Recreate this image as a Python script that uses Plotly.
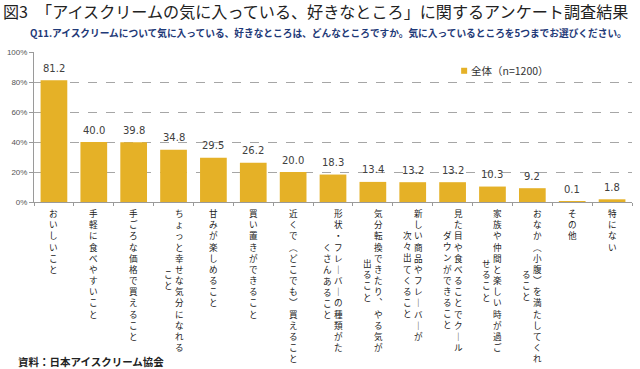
import plotly.graph_objects as go

# ---- data ----
title_text = "図3　「アイスクリームの気に入っている、好きなところ」に関するアンケート調査結果"
subtitle_text = "Q11.アイスクリームについて気に入っている、好きなところは、どんなところですか。気に入っているところを5つまでお選びください。"
source_text = "資料：日本アイスクリーム協会"
series_name = "全体（n=1200）"

label_lines = [
    ["おいしいこと"],
    ["手軽に食べやすいこと"],
    ["手ごろな価格で買えること"],
    ["ちょっと幸せな気分になれる", "こと"],
    ["甘みが楽しめること"],
    ["買い置きができること"],
    ["近くで(どこでも)買えること"],
    ["形状・フレーバーの種類がた", "くさんあること"],
    ["気分転換できたり、やる気が", "出ること"],
    ["新しい商品やフレーバーが", "次々出てくること"],
    ["見た目や食べることでクール", "ダウンができること"],
    ["家族や仲間と楽しい時が過ご", "せること"],
    ["おなか(小腹)を満たしてくれ", "ること"],
    ["その他"],
    ["特にない"],
]
categories = ["".join(l) for l in label_lines]
values = [81.2, 40.0, 39.8, 34.8, 29.5, 26.2, 20.0, 18.3, 13.4, 13.2, 13.2, 10.3, 9.2, 0.1, 1.8]
y_ticks = [0, 20, 40, 60, 80, 100]
y_tick_text = [f"{t}%" for t in y_ticks]

# ---- style / geometry ----
W, H = 640, 369
L_M, R_M, T_M, B_M = 33.5, 8, 52.3, 167.3
PW, PH = W - L_M - R_M, H - T_M - B_M
BAR = "#E5B127"
CJK = "Noto Sans CJK JP"
vertical_map = {"ー": "｜", "、": "︑", "(": "︵", ")": "︶", "（": "︵", "）": "︶"}
LBL_SIZE = 8.6
step = LBL_SIZE * 1.3  # plotly line spacing
col_gap = 11


def px_x(x):
    return (x - L_M) / PW


def px_y(y):
    return (H - B_M - y) / PH


fig = go.Figure()
fig.add_trace(go.Bar(
    x=categories, y=values, marker=dict(color=BAR, line=dict(width=0)),
    showlegend=False, hoverinfo="x+y",
))

annotations = []
# value labels
for i, v in enumerate(values):
    annotations.append(dict(
        x=i, y=v, xref="x", yref="y", text=f"{v:.1f}", showarrow=False,
        yshift=12, yanchor="middle", xanchor="center",
        font=dict(family="DejaVu Sans", size=10, color="#404040"),
    ))

# vertical category labels: one column per wrapped line, columns right-to-left
for i, lines in enumerate(label_lines):
    Lmax = max(len(s) for s in lines)
    ncol = len(lines)
    for j, line in enumerate(lines):
        xoff = (ncol - 1) / 2 * col_gap - j * col_gap
        start = (Lmax - len(line)) / 2
        annotations.append(dict(
            x=i, y=0, xref="x", yref="y",
            text="<br>".join(vertical_map.get(ch, ch) for ch in line),
            showarrow=False, xanchor="center", yanchor="top", align="center", borderpad=0,
            xshift=xoff, yshift=-(4 + start * step),
            font=dict(family=CJK, size=LBL_SIZE, color="#222222"),
        ))

# title, subtitle, source
annotations.append(dict(
    x=px_x(0), y=px_y(11), xref="paper", yref="paper", xanchor="left", yanchor="middle",
    text=title_text, showarrow=False,
    font=dict(family=CJK, size=16.1, color="#222222"),
))
annotations.append(dict(
    x=px_x(328), y=px_y(33), xref="paper", yref="paper",
    xanchor="center", yanchor="middle", text="<b>" + subtitle_text + "</b>", showarrow=False,
    font=dict(family=CJK, size=9.7, color="#1F3A78"),
))
annotations.append(dict(
    x=px_x(16), y=px_y(361), xref="paper", yref="paper", xanchor="left", yanchor="middle",
    text="<b>" + source_text + "</b>", showarrow=False, borderpad=0,
    font=dict(family=CJK, size=10.5, color="#222222"),
))

# legend (marker square + text)
annotations.append(dict(
    x=px_x(469), y=px_y(71), xref="paper", yref="paper", xanchor="left", yanchor="middle",
    text=series_name, showarrow=False,
    font=dict(family=CJK, size=10.5, color="#333333"),
))
shapes = [dict(
    type="rect", xref="paper", yref="paper",
    x0=px_x(461), x1=px_x(467), y0=px_y(68), y1=px_y(74),
    fillcolor=BAR, line=dict(width=0),
)]

fig.update_layout(
    width=W, height=H, autosize=False,
    margin=dict(l=L_M, r=R_M, t=T_M, b=B_M, pad=0, autoexpand=False),
    paper_bgcolor="white", plot_bgcolor="white",
    bargap=0.33,
    annotations=annotations, shapes=shapes,
    showlegend=False,
    xaxis=dict(
        type="category", range=[-0.5, len(categories) - 0.5], automargin=False,
        showticklabels=False, showgrid=False,
        showline=True, linecolor="#9A9A9A", linewidth=1,
        ticks="outside", tickson="boundaries", ticklen=3, tickcolor="#9A9A9A",
        zeroline=False,
    ),
    yaxis=dict(
        range=[0, 100], tickvals=y_ticks, ticktext=y_tick_text, automargin=False,
        showline=True, linecolor="#9A9A9A", linewidth=1,
        ticks="outside", ticklen=4, tickcolor="#9A9A9A",
        showgrid=True, gridcolor="#A6A6A6", griddash="dash", gridwidth=1,
        zeroline=False,
        tickfont=dict(family="Liberation Sans Narrow, Liberation Sans", size=8, color="#555555"),
    ),
)

fig.write_html(
    "out.html",
    config={"displayModeBar": False},
    post_script="document.body.style.margin='0px';document.body.style.padding='0px';",
)
